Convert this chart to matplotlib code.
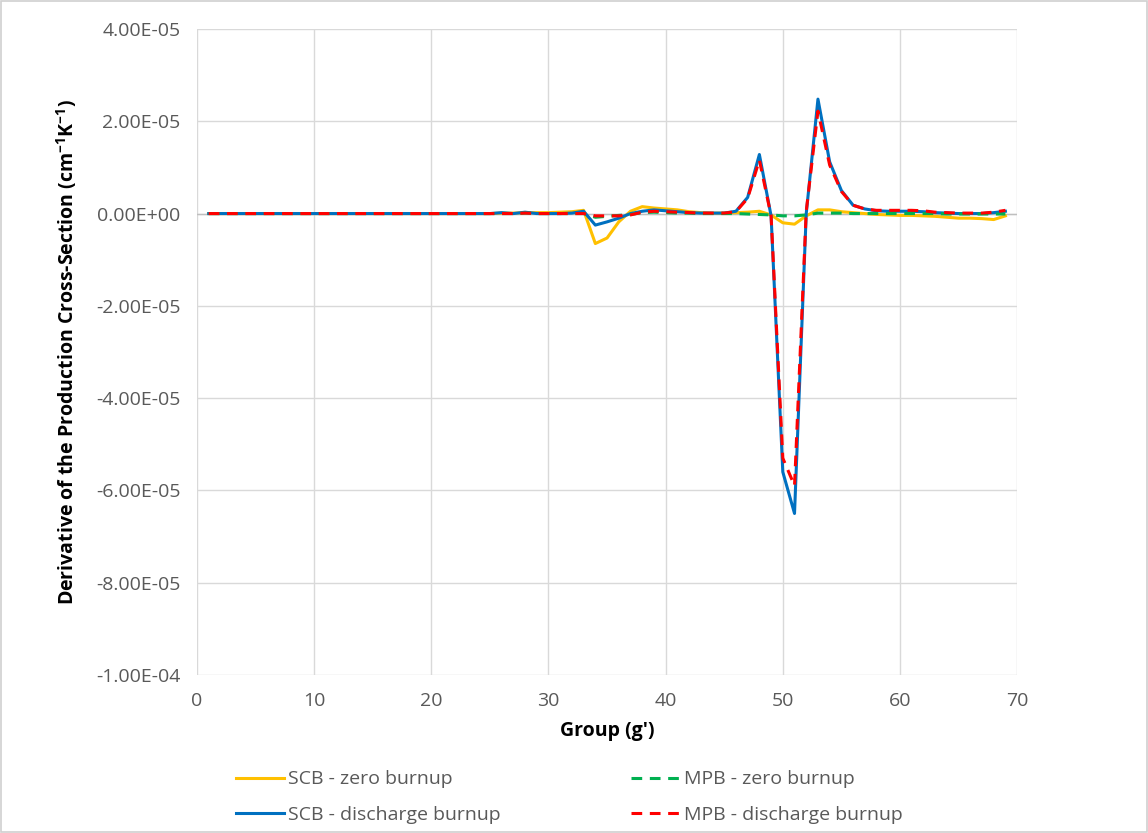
import numpy as np
import matplotlib.pyplot as plt
from matplotlib.patches import Rectangle

plt.rcParams['font.family'] = ['Open Sans', 'DejaVu Sans']
plt.rcParams['mathtext.default'] = 'regular'

groups = list(range(1, 70))

# values in units of 1e-6, groups 1..69
scb_zero_e6 = [0]*24 + [
    0.0, 0.1, 0.1, 0.2, 0.2, 0.2, 0.3, 0.4, 0.7,      # 25-33
    -6.5, -5.3, -1.8, 0.5, 1.5, 1.2, 1.0, 0.8, 0.4,   # 34-42
    0.2, 0.1, 0.1, 0.2, 0.3, 0.5, -0.3, -2.0, -2.3,   # 43-51
    -0.5, 0.8, 0.8, 0.4, 0.2, 0.0, -0.2, -0.3, -0.4,  # 52-60
    -0.4, -0.5, -0.6, -0.8, -1.0, -1.0, -1.1, -1.3, -0.5]  # 61-69
mpb_zero_e6 = [0]*24 + [
    0.0, 0.0, 0.0, 0.1, 0.0, 0.0, 0.0, 0.0, 0.0,
    -0.8, -0.6, -0.4, -0.2, 0.2, 0.3, 0.2, 0.1, 0.1,
    0.0, 0.0, 0.0, 0.0, -0.1, -0.2, -0.3, -0.5, -0.5,
    -0.3, 0.1, 0.1, 0.1, 0.0, 0.0, 0.0, 0.0, 0.0,
    0.0, 0.0, 0.0, -0.1, -0.1, -0.1, -0.1, -0.1, -0.1]
scb_dis_e6 = [0]*24 + [
    0.0, 0.2, 0.0, 0.3, 0.0, 0.0, 0.0, 0.1, 0.5,
    -2.5, -1.8, -1.0, 0.0, 0.5, 0.8, 0.6, 0.4, 0.2,
    0.1, 0.1, 0.1, 0.5, 3.5, 12.8, -0.5, -56.0, -65.0,
    0.0, 24.8, 11.2, 5.0, 1.8, 1.0, 0.6, 0.5, 0.5,
    0.5, 0.4, 0.2, 0.1, 0.0, 0.0, 0.0, 0.2, 0.5]
mpb_dis_e6 = [0]*24 + [
    0.0, 0.0, 0.0, 0.1, 0.0, 0.0, 0.0, 0.0, 0.0,
    -0.5, -0.5, -0.5, -0.3, 0.3, 0.5, 0.4, 0.3, 0.2,
    0.1, 0.1, 0.1, 0.4, 3.3, 11.6, -0.5, -53.0, -59.0,
    0.5, 22.2, 10.5, 4.8, 1.8, 1.0, 0.7, 0.7, 0.7,
    0.7, 0.6, 0.3, 0.2, 0.1, 0.1, 0.1, 0.3, 0.7]

scale = 1e-6
scb_zero = np.array(scb_zero_e6) * scale
mpb_zero = np.array(mpb_zero_e6) * scale
scb_dis = np.array(scb_dis_e6) * scale
mpb_dis = np.array(mpb_dis_e6) * scale

grey = '#595959'
fig = plt.figure(figsize=(11.48, 8.33), dpi=100)
fig.patches.append(Rectangle((0.001, 0.001), 0.998, 0.998, transform=fig.transFigure,
                             fill=False, edgecolor='#D0D0D0', linewidth=1.2))
ax = fig.add_axes([0.1716, 0.1897, 0.7144, 0.7755])

ax.plot(groups, scb_zero, color='#FFC000', lw=2.2, label='SCB - zero burnup')
ax.plot(groups, scb_dis, color='#0070C0', lw=2.2, label='SCB - discharge burnup')
ax.plot(groups, mpb_zero, color='#00B050', lw=2.2, ls=(0, (3.5, 2.5)), label='MPB - zero burnup')
ax.plot(groups, mpb_dis, color='#FF0000', lw=2.2, ls=(0, (3.5, 2.5)), label='MPB - discharge burnup')

ax.set_xlim(0, 70)
ax.set_ylim(-1e-4, 4e-5)
ax.set_xticks(range(0, 71, 10))
yt = np.arange(-1e-4, 4.01e-5, 2e-5)
ax.set_yticks(yt)
ax.set_yticklabels(['%.2E' % v if abs(v) > 1e-12 else '0.00E+00' for v in yt])
ax.grid(True, color='#D9D9D9', lw=1)
ax.set_axisbelow(True)
ax.axhline(0, color='#BFBFBF', lw=1, zorder=1)
for s in ax.spines.values():
    s.set_visible(False)
ax.tick_params(length=0, labelsize=14, labelcolor=grey, pad=12)

ax.set_xlabel("Group (g')", fontsize=14, fontweight='bold', labelpad=8)
ax.set_ylabel('Derivative of the Production Cross-Section (cm$^{-1}$K$^{-1}$)',
              fontsize=14, fontweight='bold', labelpad=12)

leg = fig.legend(loc='lower left', bbox_to_anchor=(0.190, -0.01), ncol=2, frameon=False,
                 fontsize=14, handlelength=2.5, columnspacing=6.7, labelspacing=0.9,
                 handletextpad=0.2)
for t in leg.get_texts():
    t.set_color(grey)

fig.savefig('out.png', dpi=100)
